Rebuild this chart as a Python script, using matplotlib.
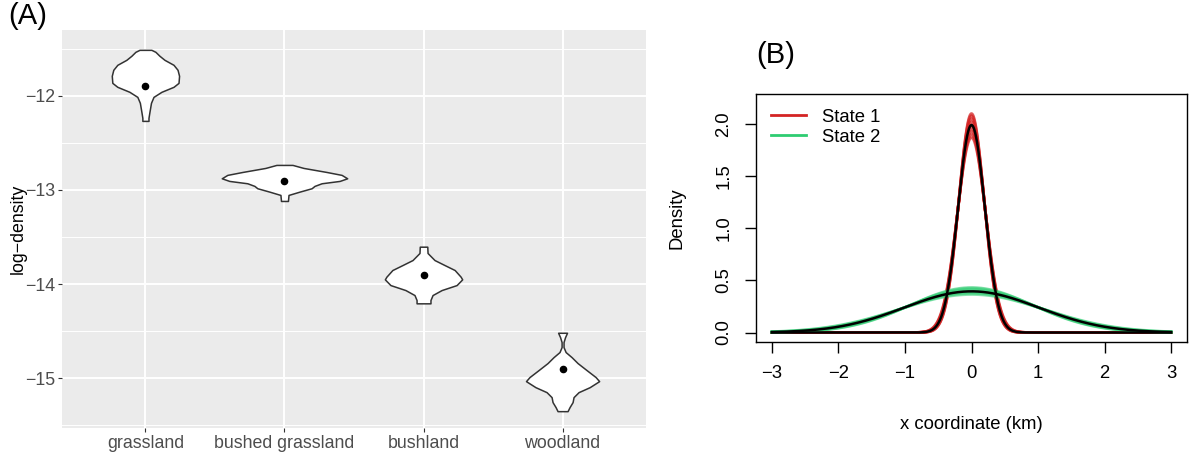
import numpy as np
import matplotlib
matplotlib.use("Agg")
import matplotlib.pyplot as plt
from matplotlib.lines import Line2D

plt.rcParams['font.family'] = ['Liberation Sans', 'DejaVu Sans']

# ---- panel A: log-density violins per habitat ----
habitats = ["grassland", "bushed grassland", "bushland", "woodland"]
habitat_means = [-11.90, -12.90, -13.90, -14.90]

# violin outlines: log-density levels and half-widths (category units)
grass_y = [-11.511, -11.532, -11.574, -11.617, -11.670, -11.723, -11.787, -11.862,
           -11.904, -11.957, -12.011, -12.074, -12.170, -12.234, -12.266]
grass_w = [0.043, 0.072, 0.101, 0.137, 0.202, 0.231, 0.242, 0.238,
           0.202, 0.115, 0.058, 0.040, 0.029, 0.022, 0.022]
bushgrass_y = [-12.734, -12.766, -12.809, -12.840, -12.876, -12.904, -12.929,
               -12.957, -12.982, -13.018, -13.053, -13.117]
bushgrass_w = [0.058, 0.137, 0.303, 0.411, 0.451, 0.397, 0.267,
               0.216, 0.195, 0.108, 0.029, 0.025]
bush_y = [-13.603, -13.670, -13.745, -13.798, -13.851, -13.922, -13.950,
          -14.011, -14.064, -14.117, -14.170, -14.205]
bush_w = [0.027, 0.029, 0.079, 0.151, 0.224, 0.267, 0.278,
          0.238, 0.130, 0.065, 0.050, 0.050]
wood_y = [-14.518, -14.564, -14.617, -14.670, -14.723, -14.777, -14.840, -14.915,
          -14.989, -15.032, -15.096, -15.149, -15.202, -15.255, -15.309, -15.351]
wood_w = [0.032, 0.018, 0.007, 0.007, 0.022, 0.065, 0.108, 0.173,
          0.238, 0.263, 0.195, 0.115, 0.079, 0.072, 0.050, 0.036]

violin_y = [grass_y, bushgrass_y, bush_y, wood_y]
violin_w = [grass_w, bushgrass_w, bush_w, wood_w]

# ---- panel B: state-dependent densities of x coordinate ----
# peak heights of the posterior draws and of the true density for each state
state1_draw_peaks = [1.87, 1.90, 1.93, 1.96, 1.99, 2.02, 2.05, 2.08, 2.10]
state2_draw_peaks = [0.365, 0.375, 0.385, 0.395, 0.405, 0.415, 0.425, 0.432]
true_peaks = [1.99, 0.395]
state_labels = ["State 1", "State 2"]
state_colors = ["#D42424", "#2ECC71"]

x_ticks = [-3, -2, -1, 0, 1, 2, 3]
y_ticks = [0.0, 0.5, 1.0, 1.5, 2.0]


def normal_from_peak(x, peak):
    # zero-mean normal density with the given height at x = 0
    sd = 1.0 / (peak * np.sqrt(2 * np.pi))
    return peak * np.exp(-x ** 2 / (2 * sd ** 2))


fig = plt.figure(figsize=(11.89, 4.54), dpi=100)

# panel A
ax1 = fig.add_axes([62 / 1189, 1 - 428 / 454, 584 / 1189, 398 / 454])
ax1.set_facecolor("#EBEBEB")
for s in ax1.spines.values():
    s.set_visible(False)
pos = np.arange(1, len(habitats) + 1)
ax1.set_xlim(0.4, 4.6)
ax1.set_ylim(-15.53, -11.30)
ax1.set_yticks([-12, -13, -14, -15])
ax1.set_yticklabels(["\u221212", "\u221213", "\u221214", "\u221215"])
ax1.set_yticks([-11.5, -12.5, -13.5, -14.5, -15.5], minor=True)
ax1.set_xticks(pos)
ax1.set_xticklabels(habitats)
ax1.grid(which="major", color="white", linewidth=1.4)
ax1.grid(which="minor", axis="y", color="white", linewidth=0.7)
ax1.set_axisbelow(True)
ax1.tick_params(which="major", length=3, width=0.8, color="#333333",
                labelsize=12.8, labelcolor="#4D4D4D", pad=2)
ax1.tick_params(which="minor", length=0)

for p, ys, ws in zip(pos, violin_y, violin_w):
    ys = np.array(ys)
    ws = np.array(ws)
    ax1.fill_betweenx(ys, p - ws, p + ws, facecolor="white",
                      edgecolor="#333333", linewidth=1.1, zorder=3)
ax1.scatter(pos, habitat_means, s=20, color="black", zorder=4)

ax1.set_ylabel("log\u2212density", fontsize=12.8)
ax1.yaxis.set_label_coords(-0.0753, 0.5)
ax1.yaxis.label.set_va("center")

fig.text(8 / 1189, 1 - 16 / 454, "(A)", fontsize=21, va="center", ha="left")

# panel B
ax2 = fig.add_axes([756 / 1189, 1 - 341.7 / 454, 431 / 1189, 247.7 / 454])
xs = np.linspace(-3, 3, 1201)
for pk in state1_draw_peaks:
    ax2.plot(xs, normal_from_peak(xs, pk), color=state_colors[0], lw=2, alpha=0.75)
for pk in state2_draw_peaks:
    ax2.plot(xs, normal_from_peak(xs, pk), color=state_colors[1], lw=2, alpha=0.55)
for pk in true_peaks:
    ax2.plot(xs, normal_from_peak(xs, pk), color="black", lw=1.8)

ax2.set_xlim(-3.24, 3.24)
ax2.set_ylim(-0.088, 2.288)
ax2.set_xticks(x_ticks)
ax2.set_xticklabels(["\u22123", "\u22122", "\u22121", "0", "1", "2", "3"])
ax2.set_yticks(y_ticks)
ax2.set_yticklabels(["%.1f" % v for v in y_ticks], rotation=90, va="center")
ax2.tick_params(length=8, width=1, labelsize=13.3, pad=9)
for s in ax2.spines.values():
    s.set_linewidth(1)

ax2.set_xlabel("x coordinate (km)", fontsize=13.3)
ax2.xaxis.set_label_coords(0.5, -0.336)
ax2.xaxis.label.set_va("center")
ax2.set_ylabel("Density", fontsize=13.3)
ax2.yaxis.set_label_coords(-0.183, 0.5)
ax2.yaxis.label.set_va("center")

handles = [Line2D([], [], color=c, lw=2) for c in state_colors]
ax2.legend(handles, state_labels, loc="upper left", frameon=False, fontsize=13.3,
           handlelength=1.9, handletextpad=0.9, labelspacing=0.15,
           bbox_to_anchor=(0.0, 1.0), borderaxespad=0.4)

fig.text(756 / 1189, 1 - 55 / 454, "(B)", fontsize=21, va="center", ha="left")

fig.savefig("out.png", dpi=100)
